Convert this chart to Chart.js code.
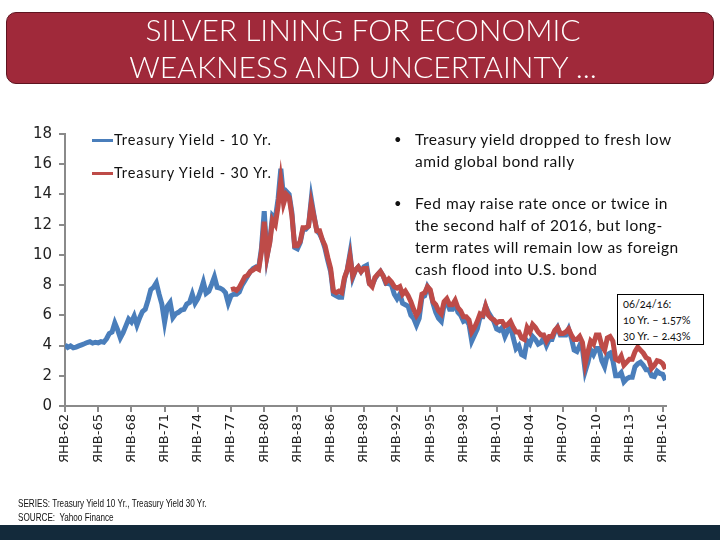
<!DOCTYPE html>
<html>
<head>
<meta charset="utf-8">
<script src="https://cdn.jsdelivr.net/npm/chart.js@4.4.1/dist/chart.umd.min.js"></script>
<style>
  html, body { margin: 0; padding: 0; background: #fff; }
  #wrap { position: relative; width: 720px; height: 540px; overflow: hidden; }
  #chart { position: absolute; left: 0; top: 0; }
  .banner {
    position: absolute; left: 6px; top: 12px; width: 706px; height: 70px;
    background: #a0293a; border: 1px solid #5e1420; border-radius: 10px;
    color: #fff; font-family: Lato, sans-serif; font-weight: 300; font-size: 30px; text-align: center;
    line-height: 37px;
  }
  .banner div { position: relative; left: 3px; top: -2px; }
  .legend { position: absolute; left: 92px; font-family: Lato, sans-serif; font-size: 14.5px; letter-spacing: 0.9px; color: #111; }
  .legend span.sw { display: inline-block; width: 21px; height: 3px; vertical-align: middle; margin-right: 1px; position: relative; top: -1px; }
  .bullets { position: absolute; left: 394px; top: 129px; font-family: Lato, sans-serif; font-size: 15.5px; letter-spacing: 0.5px; color: #111; line-height: 21.7px; }
  .bullets .item { position: relative; padding-left: 21px; margin-bottom: 21px; }
  .bullets .item::before { content: "\2022"; position: absolute; left: 0; top: 0; font-size: 13px; }
  .note {
    position: absolute; left: 617px; top: 294px;
    border: 1px solid #000; background: #fff; font-family: Lato, sans-serif; font-size: 11px; color: #111;
    line-height: 16px; padding: 1px 0 0 5px; box-sizing: border-box; width: 87px; height: 51px;
    font-variant-numeric: oldstyle-nums;
  }
  .foot { position: absolute; left: 18px; font-family: "Liberation Sans", sans-serif; font-size: 11px; color: #111;
    transform: scaleX(0.74); transform-origin: 0 0; white-space: nowrap; }
  .bar { position: absolute; left: 0; top: 525px; width: 720px; height: 15px; background: #132a3b; }
</style>
</head>
<body>
<div id="wrap">
  <canvas id="chart" width="720" height="540"></canvas>
  <div class="banner"><div>SILVER LINING FOR ECONOMIC</div><div>WEAKNESS AND UNCERTAINTY ...</div></div>
  <div class="legend" style="top:131px"><span class="sw" style="background:#4a7ebb"></span>Treasury Yield - 10 Yr.</div>
  <div class="legend" style="top:164px"><span class="sw" style="background:#be4b48"></span>Treasury Yield - 30 Yr.</div>
  <div class="bullets">
    <div class="item">Treasury yield dropped to fresh low<br>amid global bond rally</div>
    <div class="item">Fed may raise rate once or twice in<br>the second half of 2016, but long-<br>term rates will remain low as foreign<br>cash flood into U.S. bond</div>
  </div>
  <div class="note">06/24/16:<br>10 Yr. – 1.57%<br>30 Yr. – 2.43%</div>
  <div class="foot" style="top:497px">SERIES: Treasury Yield 10 Yr., Treasury Yield 30 Yr.</div>
  <div class="foot" style="top:511px">SOURCE:&nbsp; Yahoo Finance</div>
  <div class="bar"></div>
</div>
<script>
// quarterly readings (year + 0, .25, .5, .75)
const startYear10 = 1962;
const startYear30 = 1977;
const stepYears = 0.25;

const yield10 = [
  4.05, 3.88, 3.98, 3.85, // 1962
  3.90, 3.98, 4.05, 4.12, // 1963
  4.20, 4.25, 4.16, 4.22, // 1964
  4.18, 4.26, 4.22, 4.45, // 1965
  4.80, 4.90, 5.50, 5.05, // 1966
  4.50, 4.85, 5.30, 5.75, // 1967
  5.55, 5.95, 5.35, 5.85, // 1968
  6.25, 6.40, 7.00, 7.70, // 1969
  7.85, 8.15, 7.40, 6.75, // 1970
  5.55, 6.60, 6.85, 5.85, // 1971
  6.10, 6.20, 6.35, 6.40, // 1972
  6.75, 6.85, 7.40, 6.80, // 1973
  7.10, 7.60, 8.20, 7.45, // 1974
  7.60, 8.05, 8.55, 7.85, // 1975
  7.80, 7.70, 7.50, 6.80, // 1976
  7.30, 7.40, 7.40, 7.55, // 1977
  8.00, 8.30, 8.60, 8.90, // 1978
  9.10, 9.20, 9.15, 10.45, // 1979
  12.90, 9.90, 10.90, 12.60, // 1980
  12.40, 13.70, 15.70, 13.80, // 1981
  14.20, 14.00, 12.80, 10.50, // 1982
  10.40, 10.80, 11.70, 11.70, // 1983
  11.90, 13.70, 12.60, 11.60, // 1984
  11.40, 11.00, 10.40, 9.60, // 1985
  8.90, 7.40, 7.30, 7.20, // 1986
  7.20, 8.40, 9.00, 10.10, // 1987
  8.50, 9.00, 9.20, 8.90, // 1988
  9.20, 9.30, 8.10, 8.00, // 1989
  8.40, 8.70, 8.90, 8.60, // 1990
  8.10, 8.10, 8.00, 7.40, // 1991
  7.10, 7.40, 6.80, 6.70, // 1992
  6.60, 6.00, 5.80, 5.35, // 1993
  5.80, 7.20, 7.30, 7.90, // 1994
  7.60, 6.80, 6.20, 5.80, // 1995
  5.60, 6.70, 6.90, 6.40, // 1996
  6.40, 6.80, 6.20, 6.00, // 1997
  5.60, 5.70, 5.40, 4.30, // 1998
  4.70, 5.10, 5.90, 5.90, // 1999
  6.60, 6.20, 5.90, 5.60, // 2000
  5.10, 5.00, 5.20, 4.60, // 2001
  5.00, 5.30, 4.50, 3.80, // 2002
  4.00, 3.40, 3.30, 4.30, // 2003
  4.10, 4.60, 4.40, 4.10, // 2004
  4.20, 4.50, 4.00, 4.40, // 2005
  4.40, 4.90, 5.20, 4.70, // 2006
  4.70, 4.70, 5.10, 4.50, // 2007
  3.70, 3.60, 4.00, 3.80, // 2008
  2.30, 2.90, 3.70, 3.40, // 2009
  3.80, 3.80, 3.00, 2.60, // 2010
  3.40, 3.50, 3.00, 2.00, // 2011
  2.00, 2.20, 1.60, 1.80, // 2012
  1.90, 1.90, 2.60, 2.80, // 2013
  2.90, 2.70, 2.40, 2.40, // 2014
  2.00, 1.95, 2.30, 2.15, // 2015
  2.10, 1.70              // 2016
];

const yield30 = [
  7.70, 7.75, 7.65, 7.85, // 1977
  8.20, 8.55, 8.65, 8.90, // 1978
  9.00, 9.15, 9.05, 10.20, // 1979
  12.20, 9.90, 10.80, 12.30, // 1980
  12.00, 13.20, 14.90, 13.40, // 1981
  14.00, 13.80, 12.60, 10.60, // 1982
  10.60, 10.90, 11.80, 11.80, // 1983
  11.90, 13.40, 12.50, 11.60, // 1984
  11.60, 11.00, 10.60, 9.80, // 1985
  9.10, 7.60, 7.50, 7.60, // 1986
  7.50, 8.50, 9.00, 9.90, // 1987
  8.60, 9.00, 9.20, 8.90, // 1988
  9.10, 9.10, 8.10, 7.90, // 1989
  8.50, 8.70, 8.90, 8.60, // 1990
  8.20, 8.40, 8.20, 7.90, // 1991
  7.80, 7.90, 7.40, 7.60, // 1992
  7.30, 6.90, 6.40, 6.00, // 1993
  6.30, 7.40, 7.50, 7.90, // 1994
  7.70, 6.90, 6.70, 6.30, // 1995
  6.10, 6.90, 7.10, 6.70, // 1996
  6.70, 7.00, 6.50, 6.30, // 1997
  5.90, 5.90, 5.70, 4.90, // 1998
  5.20, 5.60, 6.10, 6.00, // 1999
  6.60, 6.00, 5.80, 5.70, // 2000
  5.50, 5.60, 5.60, 5.30, // 2001
  5.40, 5.60, 5.20, 4.90, // 2002
  4.90, 4.50, 4.40, 5.20, // 2003
  4.90, 5.40, 5.20, 4.90, // 2004
  4.70, 4.70, 4.30, 4.60, // 2005
  4.60, 5.00, 5.20, 4.80, // 2006
  4.80, 4.90, 5.10, 4.70, // 2007
  4.40, 4.40, 4.60, 4.20, // 2008
  2.80, 3.60, 4.30, 4.10, // 2009
  4.70, 4.70, 4.00, 3.70, // 2010
  4.50, 4.60, 4.30, 3.10, // 2011
  3.00, 3.30, 2.70, 2.90, // 2012
  3.10, 3.10, 3.60, 3.90, // 2013
  3.70, 3.50, 3.20, 3.10, // 2014
  2.50, 2.70, 3.00, 2.95, // 2015
  2.80, 2.45              // 2016
];

const tickYears = [1962, 1965, 1968, 1971, 1974, 1977, 1980, 1983, 1986, 1989, 1992, 1995, 1998, 2001, 2004, 2007, 2010, 2013, 2016];
const tickLabels = ['ЯНВ-62', 'ЯНВ-65', 'ЯНВ-68', 'ЯНВ-71', 'ЯНВ-74', 'ЯНВ-77', 'ЯНВ-80', 'ЯНВ-83', 'ЯНВ-86', 'ЯНВ-89', 'ЯНВ-92', 'ЯНВ-95', 'ЯНВ-98', 'ЯНВ-01', 'ЯНВ-04', 'ЯНВ-07', 'ЯНВ-10', 'ЯНВ-13', 'ЯНВ-16'];
const yMin = 0;
const yMax = 18;
const yStep = 2;

const toPoints = (vals, start) => vals.map((v, i) => ({ x: start + i * stepYears, y: v }));

const axisColor = '#8a8a8a';

new Chart(document.getElementById('chart'), {
  type: 'line',
  data: {
    datasets: [
      {
        label: 'Treasury Yield - 10 Yr.',
        data: toPoints(yield10, startYear10),
        borderColor: '#4a7ebb',
        borderWidth: 5,
        pointRadius: 0,
        order: 1,
      },
      {
        label: 'Treasury Yield - 30 Yr.',
        data: toPoints(yield30, startYear30),
        borderColor: '#be4b48',
        borderWidth: 5,
        pointRadius: 0,
        order: 0,
      },
    ],
  },
  options: {
    responsive: false,
    animation: false,
    layout: { padding: { left: 0, top: 134, right: 54, bottom: 14 } },
    plugins: { legend: { display: false }, tooltip: { enabled: false } },
    scales: {
      x: {
        type: 'linear',
        min: 1962,
        max: 2016.3,
        afterBuildTicks: (scale) => { scale.ticks = tickYears.map((v) => ({ value: v })); },
        afterFit: (scale) => { scale.height = 120; },
        grid: { drawOnChartArea: false, drawTicks: true, tickLength: 6, color: axisColor, lineWidth: 2 },
        border: { color: axisColor, width: 2 },
        ticks: {
          autoSkip: false,
          minRotation: 90,
          maxRotation: 90,
          padding: 2,
          color: '#222',
          font: { family: 'DejaVu Sans', size: 13 },
          callback: (v) => tickLabels[tickYears.indexOf(v)],
        },
      },
      y: {
        min: yMin,
        max: yMax,
        afterFit: (scale) => { scale.width = 65; },
        grid: { drawOnChartArea: false, drawTicks: true, tickLength: 6, color: axisColor, lineWidth: 2 },
        border: { color: axisColor, width: 2 },
        ticks: { stepSize: yStep, padding: 7, color: '#222', font: { family: 'DejaVu Sans', size: 15 } },
      },
    },
  },
});
</script>
</body>
</html>
